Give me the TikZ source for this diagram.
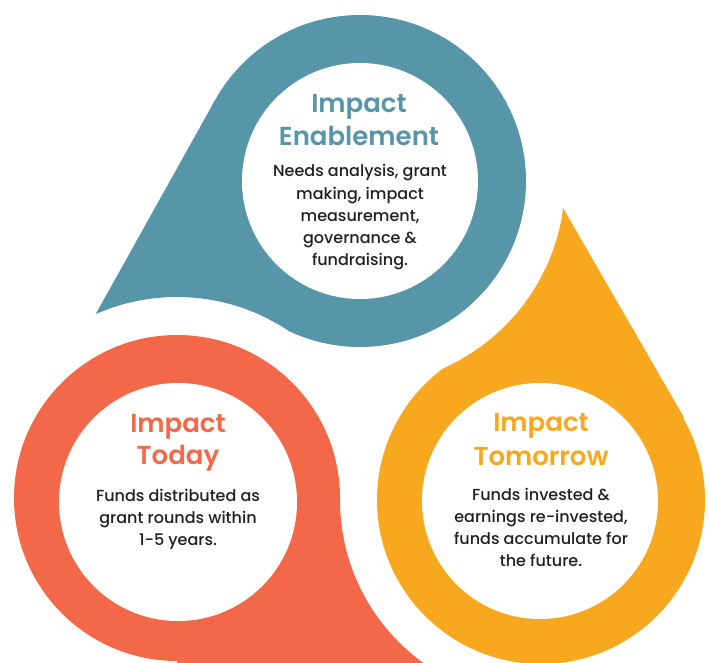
\documentclass[tikz,border=0pt]{standalone}
\usepackage{fontspec}
\setmainfont{Poppins}
\newfontfamily\ttlfont{Poppins SemiBold}
\newfontfamily\bodyfont{Poppins Medium}
\definecolor{tealc}{RGB}{87,150,168}
\definecolor{coralc}{RGB}{242,104,73}
\definecolor{orangec}{RGB}{248,168,30}
\definecolor{inkc}{RGB}{35,31,32}
\tikzset{
  ttl/.style={font=\fontsize{26}{30}\selectfont\ttlfont, anchor=base, inner sep=0pt},
  bodytxt/.style={font=\fontsize{16}{20}\selectfont\bodyfont, text=inkc, anchor=base, inner sep=0pt},
}
\begin{document}
\begin{tikzpicture}[x=1pt,y=-1pt]
\useasboundingbox (0,0) rectangle (710,662);
\coordinate (T) at (360,181);
\coordinate (C) at (177,498);
\coordinate (O) at (541,500);
\clip (0,0) rectangle (710,662);
% teal drop
\begin{scope}
\clip (-300,-300) -- (-300,1000) -- (1000,1000) -- (1000,-300) -- cycle (C) circle (201);
\fill[tealc] (T) circle (166);
\fill[tealc] (215.1,100.1) -- (T) -- (275.5,330.8) -- (83.5,335.9) -- cycle;
\end{scope}
% coral drop
\begin{scope}
\clip (-300,-300) -- (-300,1000) -- (1000,1000) -- (1000,-300) -- cycle (O) circle (201);
\fill[coralc] (C) circle (163);
\fill[coralc] (C) -- (349,499) -- (445,666) -- (177,700) -- cycle;
\end{scope}
% orange drop
\begin{scope}
\clip (-300,-300) -- (-300,1000) -- (1000,1000) -- (1000,-300) -- cycle (T) circle (205);
\fill[orangec] (O) circle (164);
\fill[orangec] (684,417.5) -- (O) -- (456.1,350.4) -- (553,190.6) -- cycle;
\end{scope}
% white centres
\fill[white] (360,181) circle (118);
\fill[white] (178,502) circle (119);
\fill[white] (540,501) circle (118);
% texts: Impact Enablement
\node[ttl,text=tealc] (te1) at (359,112) {Impact};
\node[ttl,text=tealc] (te2) at (359,145) {Enablement};
\node[bodytxt] (te3) at (360,176) {Needs analysis, grant};
\node[bodytxt] (te4) at (360,199) {making, impact};
\node[bodytxt] (te5) at (360,221) {measurement,};
\node[bodytxt] (te6) at (360,243) {governance \&};
\node[bodytxt] (te7) at (360,265) {fundraising.};
% Impact Today
\node[ttl,text=coralc] (to1) at (178,432) {Impact};
\node[ttl,text=coralc] (to2) at (178,464) {Today};
\node[bodytxt] (to3) at (178,501) {Funds distributed as};
\node[bodytxt] (to4) at (178,523) {grant rounds within};
\node[bodytxt] (to5) at (178,545) {1-5 years.};
% Impact Tomorrow
\node[ttl,text=orangec] (tm1) at (541,431) {Impact};
\node[ttl,text=orangec] (tm2) at (541,465) {Tomorrow};
\node[bodytxt] (tm3) at (541,500) {Funds invested \&};
\node[bodytxt] (tm4) at (541,522) {earnings re-invested,};
\node[bodytxt] (tm5) at (541,544) {funds accumulate for};
\node[bodytxt] (tm6) at (541,566) {the future.};
\end{tikzpicture}
\end{document}
